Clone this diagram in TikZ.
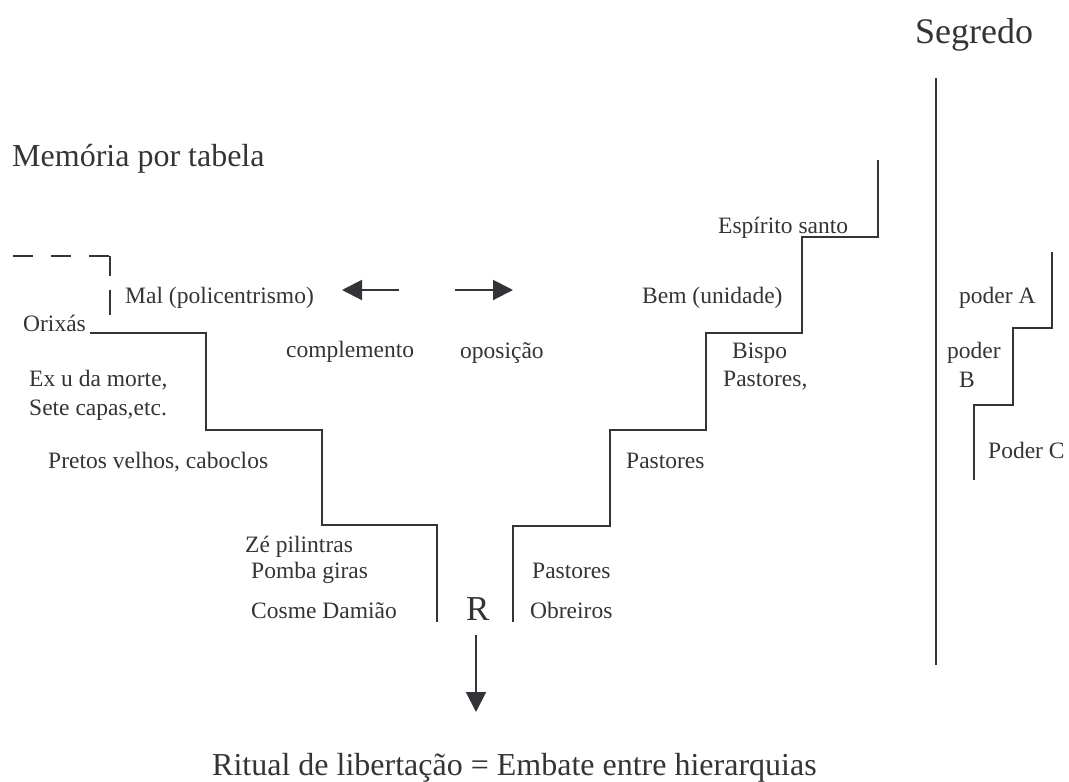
\documentclass[tikz,border=0pt]{standalone}
\usepackage{fontspec}
\setmainfont{Liberation Serif}
\usetikzlibrary{arrows.meta}
\definecolor{ink}{RGB}{52,52,56}

\begin{document}
\begin{tikzpicture}[x=1pt, y=-1pt,
    lbl/.style={anchor=base west, inner sep=0pt, text=ink, font=\fontsize{23.5}{28}\selectfont},
    big/.style={lbl, font=\fontsize{32}{38}\selectfont},
    stair/.style={draw=ink, line width=2pt},
    seta/.style={draw=ink, line width=2pt, -{Triangle[length=20pt, width=20pt]}}]
    \path[use as bounding box] (0, 0) rectangle (1069, 782);

    \node[big] (memoria) at (12, 166) {Memória por tabela};
    \node[big, font=\fontsize{36}{42}\selectfont] (segredo) at (915, 43) {Segredo};
    \node[big] (ritual) at (212, 775) {Ritual de libertação = Embate entre hierarquias};
    \node[big, font=\fontsize{35}{40}\selectfont] (R) at (466, 620) {R};

    \node[lbl] (mal) at (125, 303) {Mal (policentrismo)};
    \node[lbl] (orixas) at (23, 331) {Orixás};
    \node[lbl] (compl) at (286, 357) {complemento};
    \node[lbl] (opos) at (460, 358) {oposição};
    \node[lbl] (exu) at (29, 386) {Ex u da morte,};
    \node[lbl] (sete) at (29, 415) {Sete capas,etc.};
    \node[lbl] (pretos) at (48, 468) {Pretos velhos, caboclos};
    \node[lbl] (ze) at (245, 552) {Zé pilintras};
    \node[lbl] (pomba) at (251, 578) {Pomba giras};
    \node[lbl] (cosme) at (251, 618) {Cosme Damião};

    \node[lbl] (espirito) at (718, 233) {Espírito santo};
    \node[lbl] (bem) at (642, 303) {Bem (unidade)};
    \node[lbl] (bispo) at (732, 358) {Bispo};
    \node[lbl] (pastA) at (723, 386) {Pastores,};
    \node[lbl] (pastB) at (626, 468) {Pastores};
    \node[lbl] (pastC) at (532, 578) {Pastores};
    \node[lbl] (obreiros) at (530, 618) {Obreiros};

    \node[lbl] (poderA) at (959, 303) {poder A};
    \node[lbl] (poderB) at (947, 358) {poder};
    \node[lbl] (poderBl) at (959, 387) {B};
    \node[lbl] (poderC) at (988, 458) {Poder C};

    \coordinate (esqA) at (399, 290);
    \coordinate (esqB) at (342, 290);
    \coordinate (dirA) at (455, 290);
    \coordinate (dirB) at (513, 290);
    \coordinate (baixoA) at (476, 635);
    \coordinate (baixoB) at (476, 712);

    % 階段と矢印を引く
    \draw[stair, dash pattern=on 20pt off 18pt] (13, 256) -- (110, 256);
    \draw[stair, dash pattern=on 20pt off 14pt on 25pt off 20pt] (110, 256) -- (110, 315);
    \draw[stair] (90, 333) -- (206, 333) -- (206, 430) -- (322, 430) -- (322, 525) -- (437, 525) -- (437, 622);
    \draw[stair] (513, 622) -- (513, 526) -- (610, 526) -- (610, 430) -- (706, 430) -- (706, 333)
        -- (802, 333) -- (802, 237) -- (878, 237) -- (878, 160);
    \draw[stair] (936, 78) -- (936, 665);
    \draw[stair] (974, 480) -- (974, 405) -- (1013, 405) -- (1013, 328) -- (1052, 328) -- (1052, 252);
    \draw[seta] (esqA) -- (esqB);
    \draw[seta] (dirA) -- (dirB);
    \draw[seta] (baixoA) -- (baixoB);
  \end{tikzpicture}
\end{document}
